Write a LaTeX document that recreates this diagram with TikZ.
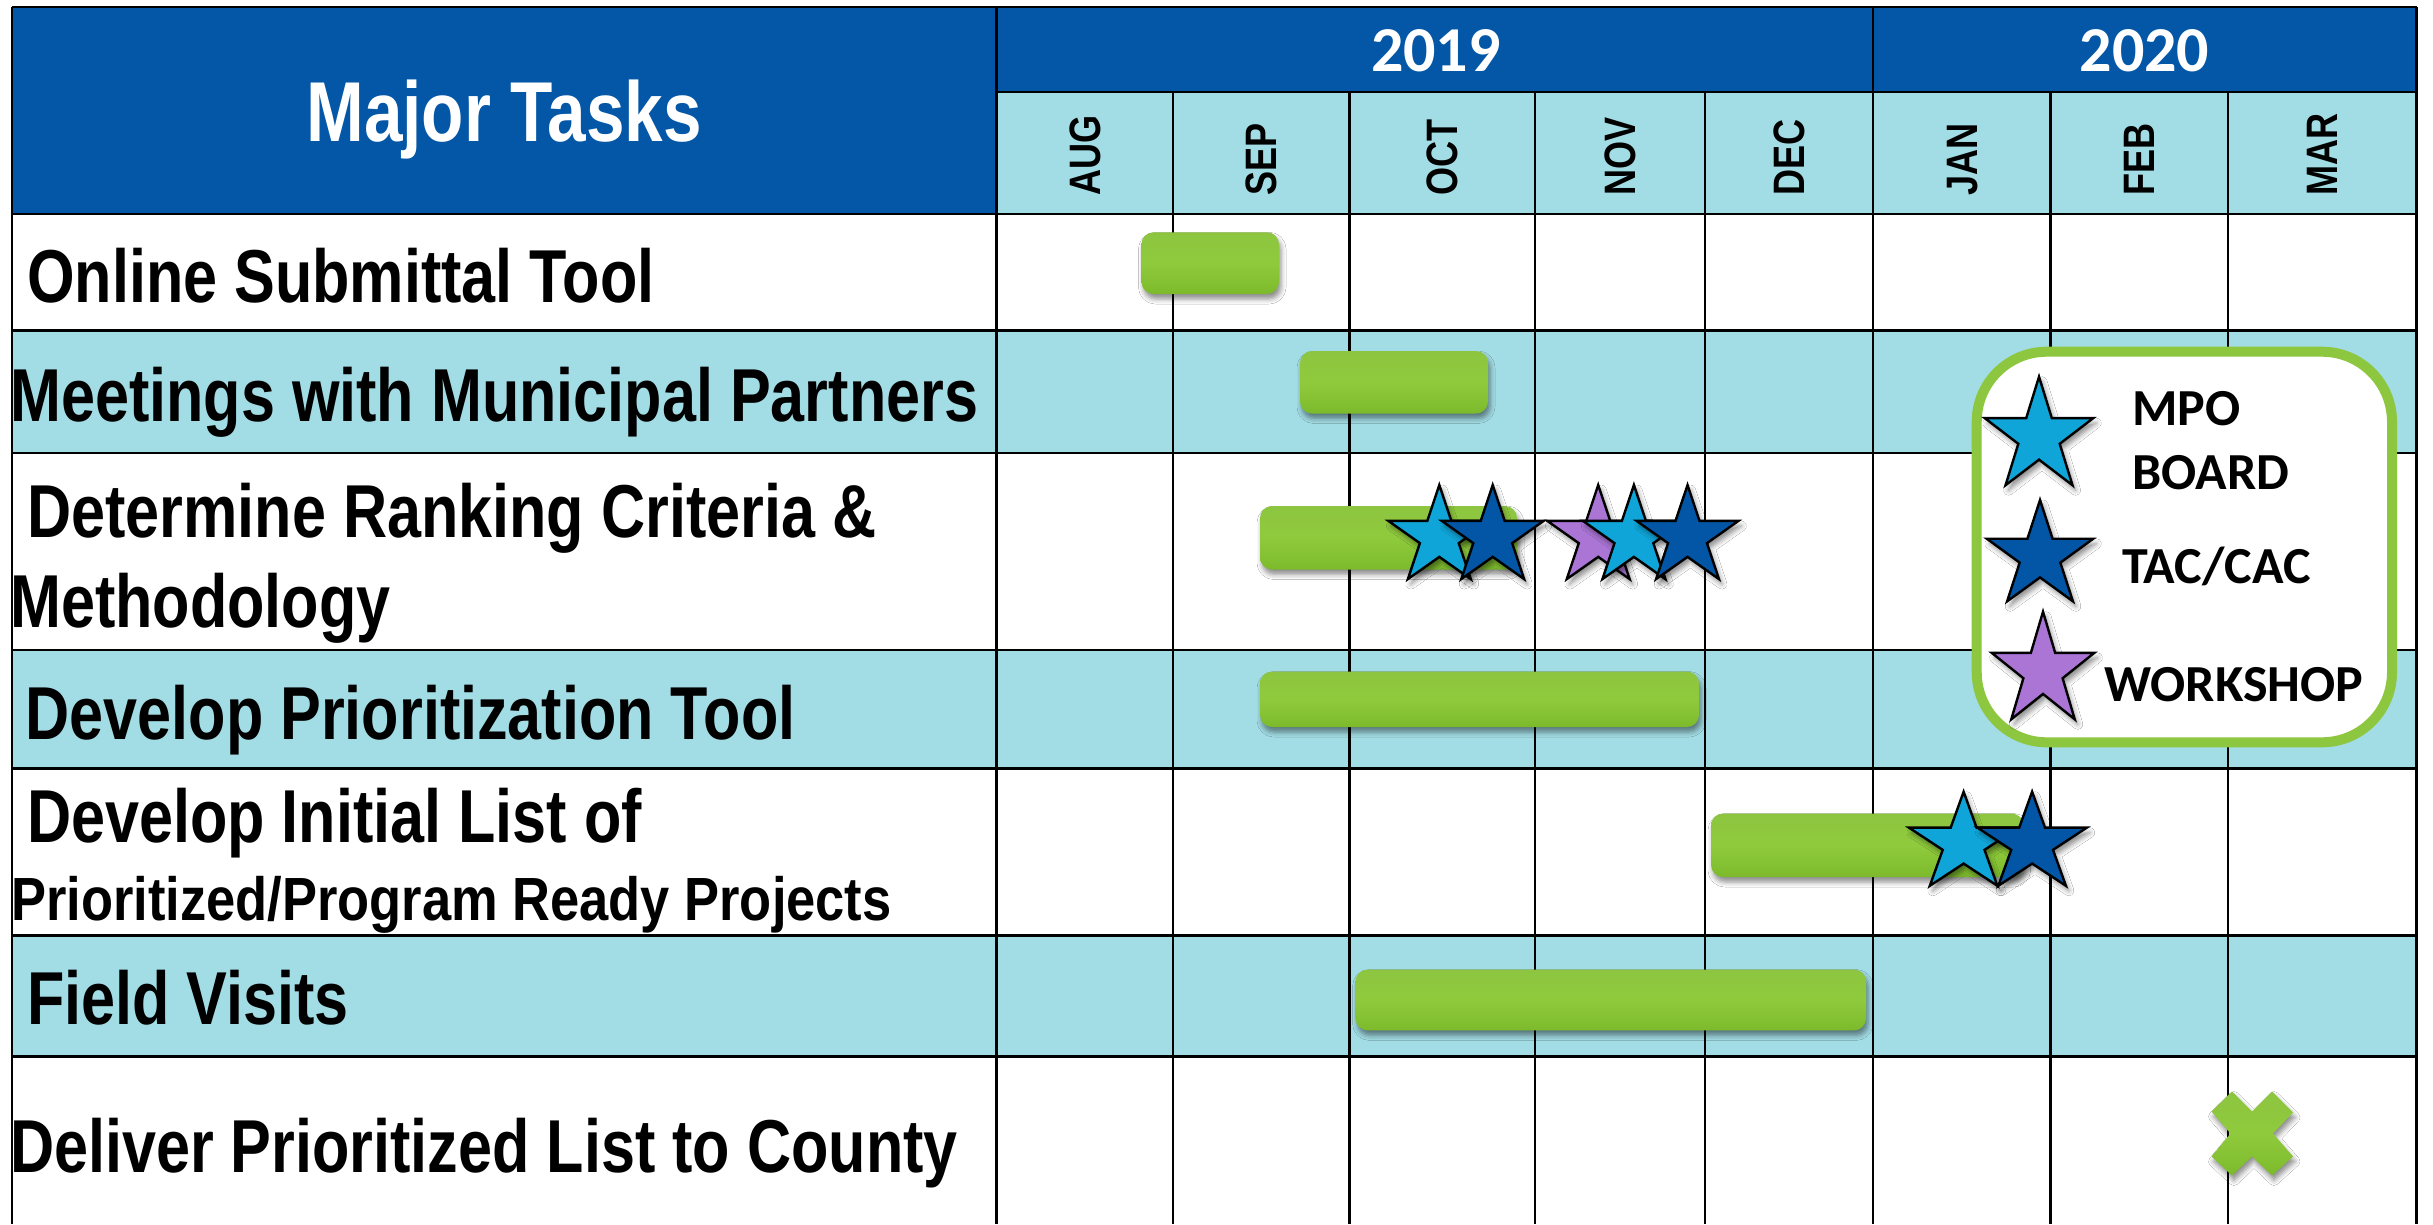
\documentclass[tikz,border=0pt]{standalone}
\usepackage{fontspec}
\setmainfont{Liberation Sans}
\newfontfamily\narrowfont[FakeStretch=0.815]{Liberation Sans}
\newfontfamily\semifont[FakeStretch=0.86]{Liberation Sans}
\newfontfamily\monthfont[FakeStretch=0.82]{Liberation Sans}
\newfontfamily\calfont{Carlito}
\usetikzlibrary{shadows.blur}

\definecolor{hdrblue}{RGB}{3,87,166}
\definecolor{rowcyan}{RGB}{162,220,228}
\definecolor{legendgreen}{RGB}{141,198,63}
\definecolor{bartop}{RGB}{141,197,64}
\definecolor{barmid}{RGB}{143,202,60}
\definecolor{barbot}{RGB}{124,186,44}
\definecolor{starlight}{RGB}{16,165,216}
\definecolor{stardark}{RGB}{2,86,165}
\definecolor{starpurple}{RGB}{170,117,212}

\tikzset{
  gridline/.style={line width=2.2pt, draw=black},
  greenfill/.style={top color=bartop, bottom color=barbot, middle color=barmid, draw=none,
    blur shadow={shadow xshift=2pt, shadow yshift=-5pt, shadow blur radius=5pt, shadow opacity=45}},
  ganttbar/.style={greenfill, rounded corners=12pt},
  starline/.style={draw=black, line width=2.4pt, line join=miter,
    blur shadow={shadow xshift=3pt, shadow yshift=-5pt, shadow blur radius=5pt, shadow opacity=45}},
  tasklabel/.style={anchor=base west, inner sep=0pt, text=black,
    font={\narrowfont\bfseries\fontsize{75}{80}\selectfont}},
  smalltask/.style={tasklabel, font={\semifont\bfseries\fontsize{61}{66}\selectfont}},
  monthlabel/.style={anchor=base west, rotate=90, inner sep=0pt, text=black,
    font={\monthfont\bfseries\fontsize{44}{48}\selectfont}},
  yearlabel/.style={anchor=base, inner sep=0pt, text=white,
    font={\calfont\bfseries\fontsize{64}{70}\selectfont}},
  legendlabel/.style={anchor=base west, inner sep=0pt, text=black,
    font={\calfont\bfseries\fontsize{52}{58}\selectfont}},
}

% star: center x, center y, radius x, radius y, colour
\newcommand\gstar[5]{%
  \path[starline, fill=#5]
    ({#1},{#2-#4})
    \foreach \k in {1,...,9}{
      -- ({#1+#3*(0.691+0.309*cos(180*\k))*cos(90+36*\k)},
          {#2-#4*(0.691+0.309*cos(180*\k))*sin(90+36*\k)})
    } -- cycle;}

\begin{document}
\begin{tikzpicture}[x=1pt,y=-1pt]
\useasboundingbox (0,0) rectangle (2433,1224);
\fill[white] (0,0) rectangle (2433,1224);

% backgrounds
\fill[hdrblue] (11.6,7) rectangle (2416.5,92);
\fill[hdrblue] (11.6,7) rectangle (996.5,214);
\fill[rowcyan] (996.5,92) rectangle (2416.5,214);
\fill[rowcyan] (11.6,330.5) rectangle (2416.5,453);
\fill[rowcyan] (11.6,650) rectangle (2416.5,768.5);
\fill[rowcyan] (11.6,935.5) rectangle (2416.5,1056.5);

% grid
\draw[gridline] (11.6,7) -- (2416.5,7);
\foreach \y in {214,330.5,453,650,768.5,935.5,1056.5}
  \draw[gridline] (11.6,\y) -- (2416.5,\y);
\draw[gridline] (996.5,92) -- (2416.5,92);
\foreach \x in {11.6,996.5,1872.8,2416.5}
  \draw[gridline] (\x,7) -- (\x,1224);
\foreach \x in {1172.6,1349.4,1534.7,1705.3,2050.5,2228.3}
  \draw[gridline] (\x,92) -- (\x,1224);

% header texts
\node[anchor=base, inner sep=0pt, text=white,
  font={\narrowfont\bfseries\fontsize{85}{90}\selectfont}] (major) at (504,141.3) {Major Tasks};
\node[yearlabel] (y2019) at (1435.9,71.7) {2019};
\node[yearlabel] (y2020) at (2144.5,71.7) {2020};

\foreach \m/\c [count=\i] in {AUG/1084.5,SEP/1261,OCT/1442,NOV/1620,DEC/1789,JAN/1961.6,FEB/2139.4,MAR/2322.4}
  \node[monthlabel] (month\i) at (\c+15.5,196) {\m};

% task labels
\node[tasklabel] (t1) at (27,302) {Online Submittal Tool};
\node[tasklabel] (t2) at (10,421.5) {Meetings with Municipal Partners};
\node[tasklabel] (t3a) at (27,537) {Determine Ranking Criteria \&};
\node[tasklabel] (t3b) at (10,627.8) {Methodology};
\node[tasklabel] (t4) at (25.5,739) {Develop Prioritization Tool};
\node[tasklabel] (t5a) at (27,842.3) {Develop Initial List of};
\node[smalltask] (t5b) at (11,920.4) {Prioritized/Program Ready Projects};
\node[tasklabel] (t6) at (27,1024) {Field Visits};
\node[tasklabel] (t7) at (10,1172) {Deliver Prioritized List to County};

% bars
\path[ganttbar] (1141.5,232.3) rectangle (1279,294);
\path[ganttbar] (1300,351) rectangle (1488,413.5);
\path[ganttbar] (1260,506) rectangle (1517,569.5);
\path[ganttbar] (1260,671.5) rectangle (1699,727);
\path[ganttbar] (1711,813.5) rectangle (2023.5,877);
\path[ganttbar] (1355.6,969.5) rectangle (1866,1030.4);

% stars in chart
\gstar{1439.3}{537}{53.5}{52}{starlight}
\gstar{1492.7}{537}{53.5}{52}{stardark}
\gstar{1598.2}{537}{53.5}{52}{starpurple}
\gstar{1633.9}{537}{53.5}{52}{starlight}
\gstar{1687.5}{537}{53.5}{52}{stardark}
\gstar{1963.6}{843.7}{57.5}{52}{starlight}
\gstar{2032.1}{843.7}{57.5}{52}{stardark}

% X mark
\path[greenfill] (2232,1091.5) -- (2252,1111.5) -- (2272,1091.5) -- (2293,1112.5)
  -- (2273,1133.5) -- (2293,1156.5) -- (2272,1175.5) -- (2252,1156.5)
  -- (2232,1175.5) -- (2211.5,1156.5) -- (2230.5,1133.5) -- (2211.5,1111.5) -- cycle;

% legend
\draw[line width=10pt, draw=legendgreen, fill=white, rounded corners=70pt]
  (1976.7,351.7) rectangle (2392,742.3);
\gstar{2039}{436.7}{57}{60}{starlight}
\gstar{2040}{556}{56}{56}{stardark}
\gstar{2043}{671.2}{54}{59.5}{starpurple}
\node[legendlabel] (lmpo) at (2132,425) {MPO};
\node[legendlabel] (lboard) at (2132,489.3) {BOARD};
\node[legendlabel] (ltac) at (2122,583.3) {TAC/CAC};
\node[legendlabel] (lwork) at (2104,701.7) {WORKSHOP};
\end{tikzpicture}
\end{document}
